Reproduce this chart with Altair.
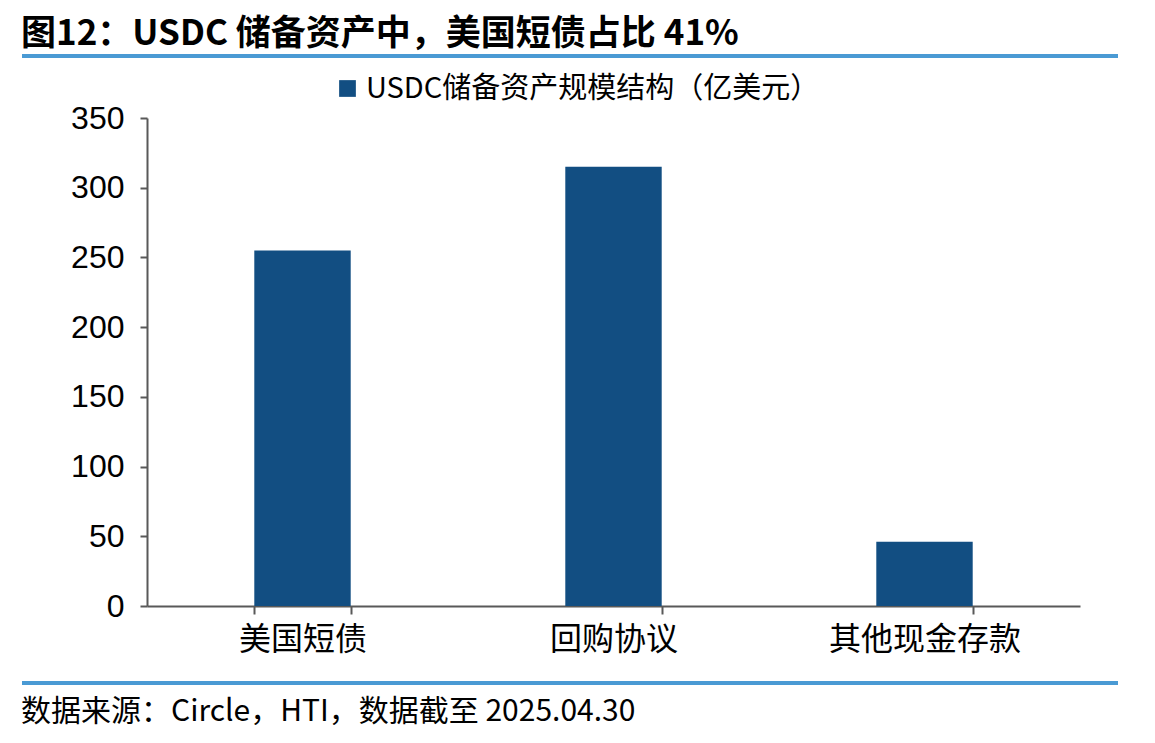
import altair as alt
import pandas as pd

# 数据
categories = ["美国短债", "回购协议", "其他现金存款"]
values = [255, 315, 46]
series_name = "USDC储备资产规模结构（亿美元）"
y_ticks = [0, 50, 100, 150, 200, 250, 300, 350]

title_text = "图12：USDC 储备资产中，美国短债占比 41%"
source_text = "数据来源：Circle，HTI，数据截至 2025.04.30"

df = pd.DataFrame({"类别": categories, "规模": values, "系列": series_name})

CJK = "Noto Sans CJK SC"
NUM = "Liberation Sans"
BAR = "#124e82"
RULE = "#4a9ad4"
AXIS = "#595959"

W, H = 933, 488

bars = alt.Chart(df).mark_bar(color=BAR).encode(
    x=alt.X(
        "类别:N",
        sort=categories,
        title=None,
        scale=alt.Scale(paddingInner=0.69, paddingOuter=0.345),
        axis=alt.Axis(
            labelAngle=0,
            labelFont=CJK,
            labelFontSize=32,
            labelColor="#000000",
            labelPadding=10,
            labelLimit=400,
            tickBand="extent",
            tickSize=8,
            tickColor=AXIS,
            tickWidth=2,
            domainColor=AXIS,
            domainWidth=2,
            grid=False,
        ),
    ),
    y=alt.Y(
        "规模:Q",
        title=None,
        scale=alt.Scale(domain=[0, 350], nice=False),
        axis=alt.Axis(
            values=y_ticks,
            labelFont=NUM,
            labelFontSize=32,
            labelColor="#000000",
            labelPadding=16,
            tickSize=7,
            tickColor=AXIS,
            tickWidth=2,
            domainColor=AXIS,
            domainWidth=2,
            grid=False,
        ),
    ),
    color=alt.Color(
        "系列:N",
        scale=alt.Scale(range=[BAR]),
        legend=alt.Legend(
            title=None,
            orient="none",
            legendX=186,
            legendY=-44,
            symbolType="square",
            symbolSize=280,
            symbolStrokeWidth=0,
            labelFont=CJK,
            labelFontSize=29,
            labelColor="#000000",
            labelLimit=800,
            padding=0,
        ),
    ),
)

# 装饰：标题、蓝色分隔线、数据来源
deco = pd.DataFrame({"k": [0]})

title = alt.Chart(deco).mark_text(
    text=title_text, font=CJK, fontSize=35, fontWeight="bold",
    align="left", baseline="bottom", color="#000000",
).encode(x=alt.value(-126), y=alt.value(-66))

top_rule = alt.Chart(deco).mark_rule(color=RULE, strokeWidth=4).encode(
    x=alt.value(-125), x2=alt.value(971), y=alt.value(-62)
)

bottom_rule = alt.Chart(deco).mark_rule(color=RULE, strokeWidth=4).encode(
    x=alt.value(-125), x2=alt.value(971), y=alt.value(565)
)

source = alt.Chart(deco).mark_text(
    text=source_text, font=CJK, fontSize=30,
    align="left", baseline="middle", color="#000000",
).encode(x=alt.value(-126), y=alt.value(594))

chart = alt.layer(bars, title, top_rule, bottom_rule, source).properties(
    width=W,
    height=H,
    autosize="none",
    padding={"left": 139, "top": 110, "right": 40, "bottom": 135},
).configure_view(stroke=None)

chart.save("out.html", embed_options={"renderer": "svg", "actions": False})
